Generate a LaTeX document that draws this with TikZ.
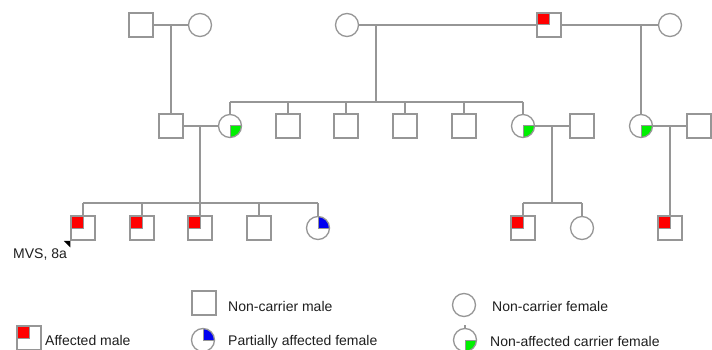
\documentclass[tikz,border=0pt]{standalone}
\usepackage{fontspec}
\setmainfont{Liberation Sans}
\usetikzlibrary{calc}
\definecolor{lineGray}{RGB}{150,150,150}
\definecolor{txt}{RGB}{30,30,30}
\definecolor{affRed}{RGB}{255,0,0}
\definecolor{carGreen}{RGB}{0,240,0}
\definecolor{parBlue}{RGB}{0,0,240}
\begin{document}
\begin{tikzpicture}[x=1pt,y=-1pt,
  link/.style={draw=lineGray,line width=1.3pt},
  male/.style={draw=lineGray,line width=1.3pt,rectangle,minimum size=24pt,inner sep=0pt,fill=white},
  female/.style={draw=lineGray,line width=1.3pt,circle,minimum size=23pt,inner sep=0pt,fill=white},
  affected/.style={male,path picture={\filldraw[fill=affRed,draw=lineGray,line width=1pt]
      (path picture bounding box.north west) rectangle (path picture bounding box.center);}},
  carrier/.style={female,path picture={\filldraw[fill=carGreen,draw=lineGray,line width=1pt]
      (path picture bounding box.center) rectangle (path picture bounding box.south east);}},
  partial/.style={female,path picture={\filldraw[fill=parBlue,draw=lineGray,line width=1pt]
      (path picture bounding box.center) rectangle (path picture bounding box.north east);}},
  label/.style={anchor=base west,inner sep=0pt,text=txt,font=\fontsize{14}{16}\selectfont}
]
\useasboundingbox (0,0) rectangle (712,350);
\clip (0,0) rectangle (712,350);

% ---------- Generation I ----------
\node[male]     (g1m1) at (141,25) {};
\node[female]   (g1f1) at (200,25) {};
\node[female]   (g1f2) at (347,25) {};
\node[affected] (g1m2) at (549,25) {};
\node[female]   (g1f3) at (670,25) {};

% ---------- Generation II ----------
\node[male]    (g2m1) at (171,126) {};
\node[carrier] (g2f1) at (230,126) {};
\node[male]    (g2s1) at (288,126) {};
\node[male]    (g2s2) at (346,126) {};
\node[male]    (g2s3) at (405,126) {};
\node[male]    (g2s4) at (464,126) {};
\node[carrier] (g2f5) at (523,126) {};
\node[male]    (g2m2) at (582,126) {};
\node[carrier] (g2f3) at (641,126) {};
\node[male]    (g2m3) at (699,126) {};

% ---------- Generation III ----------
\node[affected] (g3a) at (83,228) {};
\node[affected] (g3b) at (142,228) {};
\node[affected] (g3c) at (200,228) {};
\node[male]     (g3d) at (259,228) {};
\node[partial]  (g3e) at (318,228) {};
\node[affected] (g3f) at (523,228) {};
\node[female]   (g3g) at (582,228) {};
\node[affected] (g3h) at (670,228) {};

% ---------- coordinates ----------
\coordinate (d1) at (171,25);
\coordinate (d2) at (376,25);
\coordinate (s2) at (376,102);
\coordinate (d4) at (200,126);
\coordinate (s4) at (200,203);
\coordinate (d5) at (552,126);
\coordinate (s5) at (552,203);
\coordinate (d6) at (670,126);

% ---------- connectors ----------
\begin{scope}[link]
% gen I couples
\draw (g1m1) -- (g1f1);
\draw (g1f2) -- (g1m2);
\draw (g1m2) -- (g1f3);
% descents gen I -> II
\draw (d1) -- (g2m1);
\draw (d2) -- (s2);
\draw (g2f1 |- s2) -- (g2f5 |- s2);
\foreach \n in {g2f1,g2s1,g2s2,g2s3,g2s4,g2f5} \draw (\n |- s2) -- (\n);
\draw (g2f3 |- g1f3) -- (g2f3);
% gen II couples
\draw (g2m1) -- (g2f1);
\draw (g2f5) -- (g2m2);
\draw (g2f3) -- (g2m3);
% descents gen II -> III
\draw (d4) -- (s4);
\draw (g3a |- s4) -- (g3e |- s4);
\foreach \n in {g3a,g3b,g3c,g3d,g3e} \draw (\n |- s4) -- (\n);
\draw (d5) -- (s5);
\draw (g3f |- s5) -- (g3g |- s5);
\foreach \n in {g3f,g3g} \draw (\n |- s5) -- (\n);
\draw (d6) -- (g3h);
\end{scope}

% proband arrowhead
\fill[black] ($(g3a.south west)+(-6.5,0.3)$) -- ($(g3a.south west)+(0,0.3)$) -- ($(g3a.south west)+(0,6.8)$) -- cycle;
\node[label] (prob) at (13,258) {MVS, 8a};

% ---------- legend ----------
\node[male]     (lm)  at (204,303) {};
\node[label]    (lmt) at (228,311) {Non-carrier male};
\node[female]   (lf)  at (464,305) {};
\node[label]    (lft) at (492,311) {Non-carrier female};
\node[affected] (la)  at (29,338) {};
\node[label]    (lat) at (45,345) {Affected male};
\node[partial]  (lp)  at (203,340) {};
\node[label]    (lpt) at (228,345) {Partially affected female};
\node[carrier]  (lc)  at (465,340) {};
\coordinate (lcs) at ($(lc.north)+(0,-2.5)$);
\draw[link] (lc.north) -- (lcs);
\node[label]    (lct) at (490,346) {Non-affected carrier female};
\end{tikzpicture}
\end{document}
